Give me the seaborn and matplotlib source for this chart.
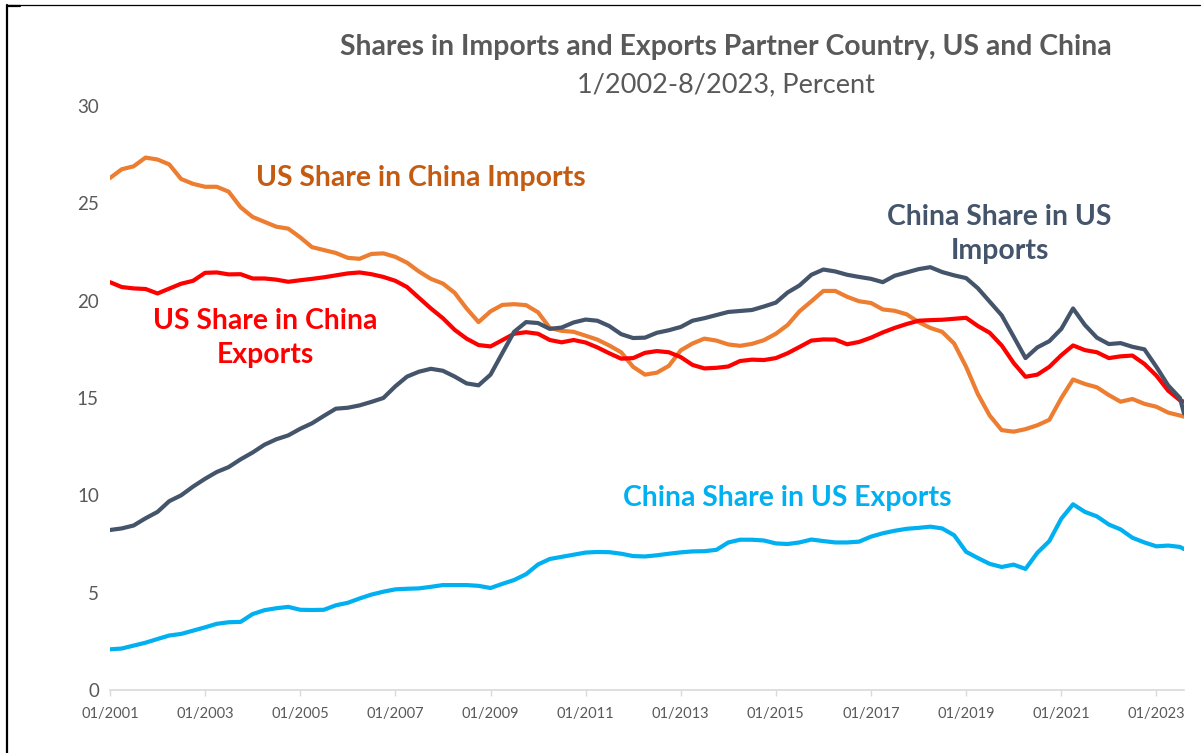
import matplotlib
matplotlib.use("Agg")
import matplotlib.pyplot as plt
import matplotlib.dates as mdates
from matplotlib.lines import Line2D
import pandas as pd
import seaborn as sns

# quarterly observations, last point is 08/2023
DATES = list(pd.date_range("2001-01-01", "2023-07-01", freq="QS")) + [pd.Timestamp("2023-08-01")]

US_IN_CHINA_IMPORTS = [
    26.3, 26.75, 26.9, 27.35, 27.25, 27.0, 26.25, 26.0, 25.85, 25.85, 25.6, 24.8,
    24.3, 24.05, 23.8, 23.7, 23.25, 22.75, 22.6, 22.45, 22.2, 22.15, 22.4, 22.43,
    22.25, 21.95, 21.5, 21.12, 20.88, 20.4, 19.6, 18.9, 19.45, 19.78, 19.82, 19.77,
    19.4, 18.6, 18.45, 18.4, 18.2, 18.0, 17.7, 17.35, 16.6, 16.2, 16.3, 16.65,
    17.45, 17.8, 18.05, 17.95, 17.75, 17.68, 17.78, 17.97, 18.3, 18.75, 19.45, 19.97,
    20.5, 20.5, 20.2, 19.97, 19.88, 19.55, 19.48, 19.3, 18.9, 18.6, 18.4, 17.8,
    16.6, 15.2, 14.1, 13.35, 13.27, 13.4, 13.6, 13.88, 15.0, 15.95, 15.72, 15.55,
    15.15, 14.81, 14.95, 14.7, 14.55, 14.25, 14.1, 14.04,
]
US_IN_CHINA_EXPORTS = [
    20.95, 20.7, 20.63, 20.6, 20.37, 20.62, 20.87, 21.02, 21.43, 21.45, 21.35, 21.36,
    21.14, 21.14, 21.08, 20.97, 21.05, 21.12, 21.2, 21.3, 21.4, 21.45, 21.36, 21.22,
    21.02, 20.7, 20.15, 19.6, 19.1, 18.5, 18.05, 17.72, 17.65, 17.97, 18.3, 18.38,
    18.3, 17.98, 17.86, 17.98, 17.85, 17.6, 17.3, 17.02, 17.05, 17.32, 17.41, 17.35,
    17.1, 16.7, 16.52, 16.55, 16.62, 16.9, 16.97, 16.95, 17.05, 17.3, 17.62, 17.95,
    18.01, 18.0, 17.76, 17.88, 18.1, 18.37, 18.6, 18.8, 18.97, 19.0, 19.02, 19.07,
    19.12, 18.7, 18.35, 17.7, 16.8, 16.09, 16.2, 16.6, 17.2, 17.7, 17.46, 17.35,
    17.05, 17.14, 17.18, 16.75, 16.15, 15.38, 14.88, 14.81,
]
CHINA_IN_US_IMPORTS = [
    8.22, 8.3, 8.45, 8.82, 9.15, 9.7, 10.0, 10.45, 10.85, 11.2, 11.45, 11.85,
    12.2, 12.6, 12.88, 13.08, 13.42, 13.7, 14.08, 14.45, 14.5, 14.62, 14.8, 15.0,
    15.6, 16.1, 16.35, 16.5, 16.4, 16.1, 15.75, 15.65, 16.2, 17.3, 18.4, 18.9,
    18.85, 18.55, 18.62, 18.88, 19.03, 18.97, 18.7, 18.28, 18.08, 18.1, 18.35, 18.48,
    18.65, 18.97, 19.1, 19.26, 19.42, 19.47, 19.52, 19.7, 19.9, 20.42, 20.78, 21.33,
    21.6, 21.5, 21.33, 21.22, 21.12, 20.95, 21.28, 21.45, 21.62, 21.72, 21.47, 21.3,
    21.16, 20.64, 19.95, 19.25, 18.15, 17.05, 17.6, 17.92, 18.55, 19.6, 18.75, 18.1,
    17.77, 17.82, 17.63, 17.5, 16.6, 15.65, 15.0, 14.21,
]
CHINA_IN_US_EXPORTS = [
    2.09, 2.13, 2.28, 2.43, 2.62, 2.8, 2.88, 3.05, 3.22, 3.4, 3.48, 3.5,
    3.9, 4.1, 4.2, 4.27, 4.12, 4.11, 4.12, 4.35, 4.48, 4.7, 4.9, 5.05,
    5.17, 5.2, 5.22, 5.3, 5.39, 5.39, 5.39, 5.35, 5.24, 5.45, 5.65, 5.95,
    6.45, 6.73, 6.84, 6.95, 7.06, 7.09, 7.08, 7.0, 6.88, 6.86, 6.92, 7.0,
    7.07, 7.12, 7.13, 7.2, 7.58, 7.72, 7.72, 7.68, 7.53, 7.5, 7.58, 7.73,
    7.65, 7.58, 7.58, 7.62, 7.88, 8.05, 8.18, 8.28, 8.33, 8.39, 8.3, 7.95,
    7.1, 6.78, 6.48, 6.32, 6.44, 6.22, 7.05, 7.65, 8.8, 9.54, 9.15, 8.92,
    8.5, 8.25, 7.82, 7.58, 7.38, 7.42, 7.35, 7.24,
]

SERIES = {
    "US Share in China Imports": US_IN_CHINA_IMPORTS,
    "US Share in China Exports": US_IN_CHINA_EXPORTS,
    "China Share in US Imports": CHINA_IN_US_IMPORTS,
    "China Share in US Exports": CHINA_IN_US_EXPORTS,
}
COLORS = {
    "US Share in China Imports": "#ED7D31",
    "US Share in China Exports": "#FF0000",
    "China Share in US Imports": "#44546A",
    "China Share in US Exports": "#00B0F0",
}
LABEL_COLORS = {
    "US Share in China Imports": "#C55A11",
    "US Share in China Exports": "#FF0000",
    "China Share in US Imports": "#44546A",
    "China Share in US Exports": "#00B0F0",
}
YTICKS = [0, 5, 10, 15, 20, 25, 30]
XTICK_YEARS = list(range(2001, 2024, 2))

frames = [pd.DataFrame({"date": DATES, "value": vals, "series": name}) for name, vals in SERIES.items()]
data = pd.concat(frames, ignore_index=True)

sns.set_theme(style="white")
plt.rcParams["font.family"] = ["Lato", "DejaVu Sans"]

W, H = 1203, 753
fig = plt.figure(figsize=(W / 100, H / 100), dpi=100)
ax = fig.add_axes([110 / W, 1 - 690 / H, (1184 - 110) / W, (690 - 106) / H])

sns.lineplot(data=data, x="date", y="value", hue="series", palette=COLORS,
             linewidth=3, legend=False, ax=ax)

ax.set_xlim(DATES[0], DATES[-1])
ax.set_ylim(0, 30)
ax.set_yticks(YTICKS)
ax.set_xticks([pd.Timestamp(f"{y}-01-01") for y in XTICK_YEARS])
ax.xaxis.set_major_formatter(mdates.DateFormatter("%m/%Y"))
ax.set_xlabel("")
ax.set_ylabel("")
for side in ["top", "right", "left"]:
    ax.spines[side].set_visible(False)
ax.spines["bottom"].set_color("#D9D9D9")
ax.spines["bottom"].set_linewidth(1.2)
ax.tick_params(axis="x", direction="out", length=4, width=1, color="#D9D9D9",
               labelsize=10.5, labelcolor="#595959", pad=8, bottom=True)
ax.tick_params(axis="y", length=0, labelsize=13.5, labelcolor="#595959", pad=8)
ax.grid(False)

fig.text(726 / W, 1 - 47 / H, "Shares in Imports and Exports Partner Country, US and China",
         ha="center", va="center", fontsize=20.4, fontweight="bold", color="#595959")
fig.text(726 / W, 1 - 85 / H, "1/2002-8/2023, Percent",
         ha="center", va="center", fontsize=19.5, color="#595959")

label_kw = dict(ha="center", va="center", fontsize=20.4, fontweight="bold", linespacing=1.38)
ax.text(pd.Timestamp("2007-07-15"), 26.3, "US Share in China Imports",
        color=LABEL_COLORS["US Share in China Imports"], **label_kw)
ax.text(pd.Timestamp("2004-04-10"), 18.1, "US Share in China\nExports",
        color=LABEL_COLORS["US Share in China Exports"], **label_kw)
ax.text(pd.Timestamp("2019-09-15"), 23.4, "China Share in US\nImports",
        color=LABEL_COLORS["China Share in US Imports"], **label_kw)
ax.text(pd.Timestamp("2015-04-01"), 9.85, "China Share in US Exports",
        color=LABEL_COLORS["China Share in US Exports"], **label_kw)

# outer frame lines at top and left of the image
fig.add_artist(Line2D([7 / W, 7 / W], [0, 1 - 5 / H], color="black", lw=1.6, transform=fig.transFigure))
fig.add_artist(Line2D([7 / W, 1200 / W], [1 - 5 / H, 1 - 5 / H], color="black", lw=0.9, transform=fig.transFigure))
fig.add_artist(Line2D([7 / W, 20 / W], [1 - 5.5 / H, 1 - 5.5 / H], color="black", lw=1.6, transform=fig.transFigure))

fig.savefig("out.png", dpi=100)
